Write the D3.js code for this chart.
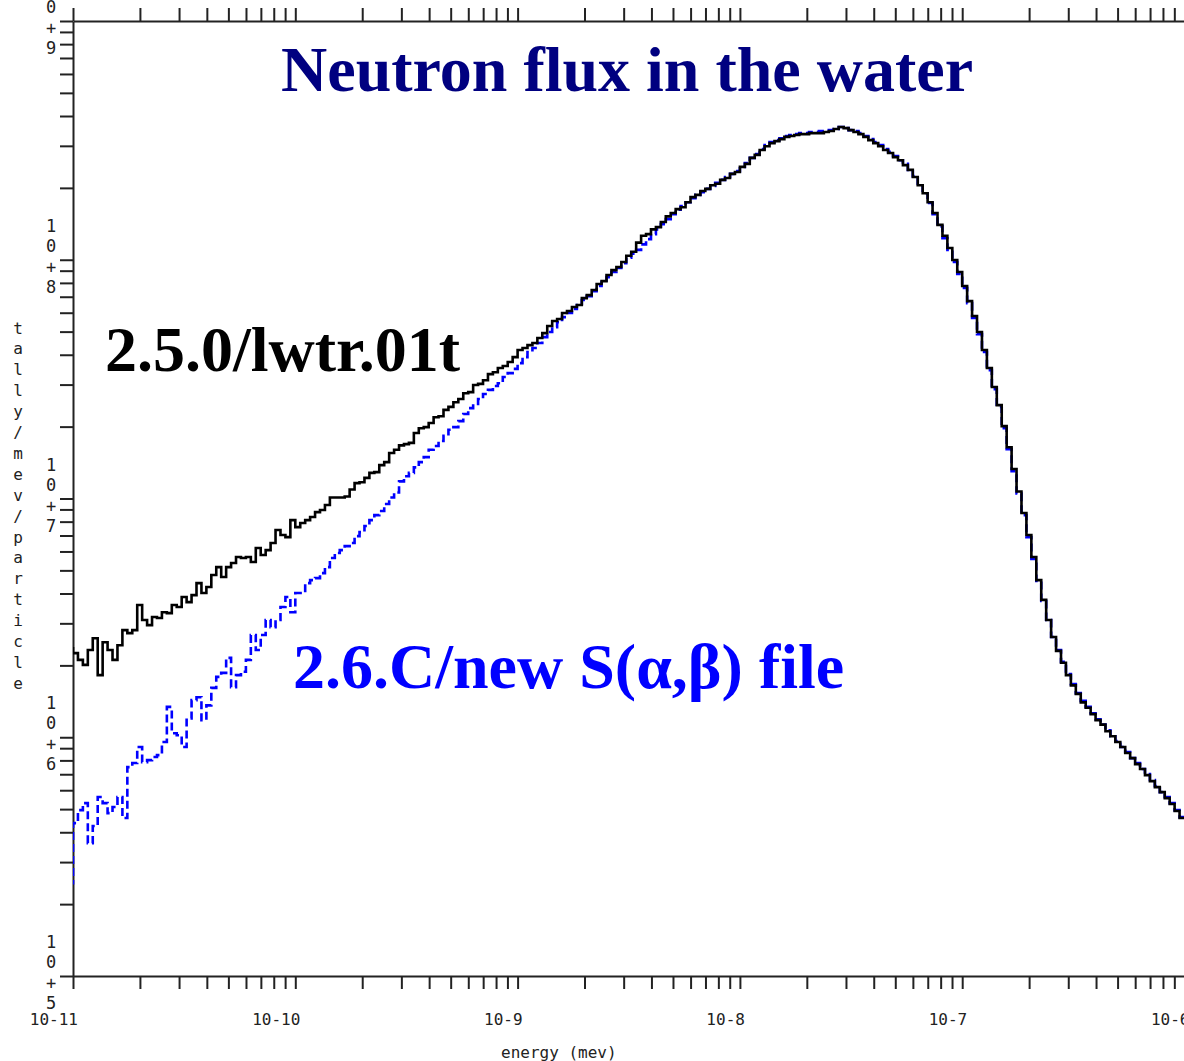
<!DOCTYPE html>
<html>
<head>
<meta charset="utf-8">
<script src="https://cdn.jsdelivr.net/npm/d3@7"></script>
<style>
body { margin: 0; background: #fff; }
svg { display: block; }
</style>
</head>
<body>
<script>
var width = 1184;
var height = 1061;

// tally bins: 45 per decade, the first one sits just below 1e-11
var binsPerDecade = 45;
var firstEdgeExp = -11 - 1 / binsPerDecade;

var xDecades = [1e-11, 1e-10, 1e-9, 1e-8, 1e-7, 1e-6];
var xTickLabels = ['10-11', '10-10', '10-9', '10-8', '10-7', '10-6'];
var yDecades = [1e5, 1e6, 1e7, 1e8, 1e9];
var yExponents = ['5', '6', '7', '8', '9'];
var xTitle = 'energy (mev)';
var yTitle = 'tally/mev/particle';
var title = 'Neutron flux in the water';
var labelOld = '2.5.0/lwtr.01t';
var labelNew = '2.6.C/new S(\u03b1,\u03b2) file';

// 2.5.0 / lwtr.01t  (tally/mev/particle per bin)
var lwtr01t = [2.36e6,
  2.25e6, 2.11e6, 2.01e6, 2.32e6, 2.60e6, 1.82e6, 2.50e6, 2.32e6, 2.11e6, 2.43e6,
  2.81e6, 2.73e6, 2.81e6, 3.58e6, 3.10e6, 2.95e6, 3.19e6, 3.16e6, 3.34e6, 3.31e6,
  3.58e6, 3.51e6, 3.87e6, 3.68e6, 3.94e6, 4.42e6, 4.02e6, 4.26e6, 4.78e6, 5.16e6,
  4.69e6, 5.16e6, 5.37e6, 5.69e6, 5.63e6, 5.69e6, 5.42e6, 6.20e6, 5.80e6, 6.08e6,
  6.51e6, 7.38e6, 7.03e6, 6.89e6, 8.12e6, 7.59e6, 7.89e6, 8.12e6, 8.36e6, 8.77e6,
  8.95e6, 9.39e6, 1.01e7, 1.01e7, 1.01e7, 1.02e7, 1.09e7, 1.16e7, 1.17e7, 1.22e7,
  1.28e7, 1.29e7, 1.38e7, 1.42e7, 1.55e7, 1.60e7, 1.67e7, 1.69e7, 1.71e7, 1.88e7,
  1.97e7, 1.99e7, 2.07e7, 2.19e7, 2.21e7, 2.35e7, 2.42e7, 2.53e7, 2.61e7, 2.76e7,
  2.79e7, 2.99e7, 3.02e7, 3.13e7, 3.32e7, 3.38e7, 3.52e7, 3.59e7, 3.73e7, 3.91e7,
  4.19e7, 4.27e7, 4.39e7, 4.48e7, 4.70e7, 4.93e7, 5.28e7, 5.54e7, 5.65e7, 5.98e7,
  6.10e7, 6.34e7, 6.46e7, 6.91e7, 7.11e7, 7.47e7, 7.91e7, 8.14e7, 8.63e7, 9.05e7,
  9.32e7, 9.78e7, 1.04e8, 1.08e8, 1.18e8, 1.26e8, 1.28e8, 1.34e8, 1.37e8, 1.44e8,
  1.52e8, 1.57e8, 1.63e8, 1.66e8, 1.74e8, 1.83e8, 1.87e8, 1.94e8, 1.98e8, 2.05e8,
  2.08e8, 2.16e8, 2.20e8, 2.29e8, 2.33e8, 2.45e8, 2.52e8, 2.67e8, 2.75e8, 2.88e8,
  2.99e8, 3.08e8, 3.14e8, 3.20e8, 3.27e8, 3.30e8, 3.33e8, 3.36e8, 3.36e8, 3.39e8,
  3.39e8, 3.39e8, 3.43e8, 3.46e8, 3.53e8, 3.60e8, 3.56e8, 3.49e8, 3.43e8, 3.36e8,
  3.27e8, 3.17e8, 3.08e8, 2.99e8, 2.88e8, 2.80e8, 2.69e8, 2.61e8, 2.49e8, 2.38e8,
  2.22e8, 2.05e8, 1.90e8, 1.74e8, 1.57e8, 1.40e8, 1.26e8, 1.12e8, 9.98e7, 8.88e7,
  7.76e7, 6.71e7, 5.81e7, 4.98e7, 4.19e7, 3.52e7, 2.93e7, 2.46e7, 2.01e7, 1.64e7,
  1.33e7, 1.07e7, 8.69e6, 7.03e6, 5.69e6, 4.55e6, 3.76e6, 3.10e6, 2.63e6, 2.30e6,
  2.05e6, 1.82e6, 1.65e6, 1.52e6, 1.40e6, 1.33e6, 1.25e6, 1.18e6, 1.13e6, 1.06e6,
  1.01e6, 9.55e5, 9.10e5, 8.59e5, 8.18e5, 7.72e5, 7.36e5, 6.94e5, 6.55e5, 6.18e5,
  5.89e5, 5.56e5, 5.25e5, 4.91e5, 4.59e5];

// 2.6.C / new S(alpha,beta) file
var newSab = [2.45e5,
  4.37e5, 4.95e5, 5.30e5, 3.60e5, 4.25e5, 5.62e5, 5.30e5, 4.81e5, 5.10e5, 5.62e5,
  4.59e5, 7.50e5, 7.80e5, 9.10e5, 7.87e5, 8.02e5, 8.26e5, 8.42e5, 9.55e5, 1.34e6,
  1.04e6, 1.02e6, 9.10e5, 1.20e6, 1.43e6, 1.47e6, 1.18e6, 1.36e6, 1.61e6, 1.79e6,
  1.86e6, 2.15e6, 1.62e6, 1.82e6, 1.88e6, 2.11e6, 2.68e6, 2.32e6, 2.68e6, 3.10e6,
  2.89e6, 3.10e6, 3.51e6, 3.87e6, 3.34e6, 4.02e6, 4.02e6, 4.42e6, 4.55e6, 4.64e6,
  4.87e6, 5.16e6, 5.63e6, 5.91e6, 6.08e6, 6.32e6, 6.51e6, 6.96e6, 7.23e6, 7.67e6,
  8.12e6, 8.52e6, 8.86e6, 9.48e6, 1.01e7, 1.06e7, 1.18e7, 1.24e7, 1.28e7, 1.35e7,
  1.42e7, 1.49e7, 1.60e7, 1.66e7, 1.74e7, 1.83e7, 1.94e7, 1.99e7, 2.11e7, 2.26e7,
  2.39e7, 2.49e7, 2.61e7, 2.74e7, 2.85e7, 2.96e7, 3.04e7, 3.23e7, 3.35e7, 3.49e7,
  3.69e7, 3.91e7, 4.11e7, 4.27e7, 4.48e7, 4.74e7, 4.98e7, 5.22e7, 5.48e7, 5.75e7,
  5.98e7, 6.22e7, 6.46e7, 6.78e7, 7.04e7, 7.39e7, 7.76e7, 8.06e7, 8.46e7, 8.88e7,
  9.23e7, 9.68e7, 1.02e8, 1.06e8, 1.10e8, 1.16e8, 1.22e8, 1.28e8, 1.34e8, 1.41e8,
  1.48e8, 1.55e8, 1.62e8, 1.68e8, 1.74e8, 1.81e8, 1.87e8, 1.92e8, 1.98e8, 2.04e8,
  2.10e8, 2.16e8, 2.22e8, 2.29e8, 2.35e8, 2.45e8, 2.54e8, 2.67e8, 2.77e8, 2.91e8,
  3.02e8, 3.11e8, 3.17e8, 3.23e8, 3.30e8, 3.33e8, 3.36e8, 3.39e8, 3.39e8, 3.43e8,
  3.43e8, 3.46e8, 3.46e8, 3.49e8, 3.53e8, 3.60e8, 3.56e8, 3.49e8, 3.46e8, 3.39e8,
  3.30e8, 3.20e8, 3.11e8, 3.02e8, 2.91e8, 2.83e8, 2.72e8, 2.61e8, 2.52e8, 2.38e8,
  2.24e8, 2.05e8, 1.90e8, 1.73e8, 1.55e8, 1.38e8, 1.23e8, 1.10e8, 9.78e7, 8.71e7,
  7.61e7, 6.58e7, 5.70e7, 4.88e7, 4.11e7, 3.45e7, 2.87e7, 2.42e7, 1.97e7, 1.61e7,
  1.30e7, 1.05e7, 8.52e6, 6.89e6, 5.58e6, 4.51e6, 3.72e6, 3.10e6, 2.63e6, 2.32e6,
  2.07e6, 1.84e6, 1.67e6, 1.53e6, 1.42e6, 1.34e6, 1.26e6, 1.19e6, 1.13e6, 1.07e6,
  1.01e6, 9.64e5, 9.10e5, 8.67e5, 8.18e5, 7.80e5, 7.36e5, 7.01e5, 6.62e5, 6.25e5,
  5.89e5, 5.62e5, 5.30e5, 4.95e5, 4.63e5];

var monoFont = '"DejaVu Sans Mono", "Liberation Mono", monospace';
var serifFont = '"Liberation Serif", "Times New Roman", serif';
var axisColor = '#222';

var svg = d3.select('body').append('svg')
  .attr('width', width).attr('height', height);
svg.append('rect').attr('width', width).attr('height', height).attr('fill', '#fff');

var x = d3.scaleLog().domain([1e-11, 1e-6]).range([73, 1184.5]);
var y = d3.scaleLog().domain([1e5, 1e9]).range([976, 21]);

// 1..9 ticks in each decade
var minorTicks = function(decades) {
  var out = [];
  decades.forEach(function(d, i) {
    if (i === decades.length - 1) { out.push(d); return; }
    for (var m = 1; m < 10; m++) out.push(d * m);
  });
  return out;
};
var xTicks = minorTicks(xDecades);
var yTicks = minorTicks(yDecades);

var styleAxis = function(g) {
  g.selectAll('path').attr('stroke', axisColor).attr('stroke-width', 2);
  g.selectAll('line').attr('stroke', axisColor).attr('stroke-width', 2);
  g.selectAll('text').remove();
};

svg.append('g').attr('transform', 'translate(0,976)')
  .call(d3.axisBottom(x).tickValues(xTicks).tickSize(13).tickSizeOuter(0).tickFormat(''))
  .call(styleAxis);
svg.append('g').attr('transform', 'translate(0,21)')
  .call(d3.axisTop(x).tickValues(xTicks).tickSize(13).tickSizeOuter(0).tickFormat(''))
  .call(styleAxis);
svg.append('g').attr('transform', 'translate(73,0)')
  .call(d3.axisLeft(y).tickValues(yTicks).tickSize(13).tickSizeOuter(0).tickFormat(''))
  .call(styleAxis);

// x tick labels, right aligned just past the decade tick
svg.append('g').selectAll('text').data(xDecades).enter().append('text')
  .attr('x', function(d) { return x(d) + 5; })
  .attr('y', 1019)
  .attr('text-anchor', 'end')
  .attr('dominant-baseline', 'central')
  .attr('font-family', monoFont).attr('font-size', 16).attr('fill', axisColor)
  .text(function(d, i) { return xTickLabels[i]; });

// y tick labels are stacked vertically: 1 / 0 / + / exponent
var yLabelGroup = svg.append('g');
yDecades.forEach(function(d, i) {
  var chars = ['1', '0', '+', yExponents[i]];
  var offs = [-34, -14, 7, 27];
  chars.forEach(function(c, j) {
    yLabelGroup.append('text')
      .attr('x', 51).attr('y', y(d) + offs[j])
      .attr('text-anchor', 'middle').attr('dominant-baseline', 'central')
      .attr('font-family', monoFont).attr('font-size', 17).attr('fill', axisColor)
      .text(c);
  });
});

svg.append('text')
  .attr('x', 501).attr('y', 1052)
  .attr('dominant-baseline', 'central')
  .attr('font-family', monoFont).attr('font-size', 16).attr('fill', axisColor)
  .text(xTitle);

yTitle.split('').forEach(function(c, i) {
  svg.append('text')
    .attr('x', 18).attr('y', 328 + i * 20.9)
    .attr('text-anchor', 'middle').attr('dominant-baseline', 'central')
    .attr('font-family', monoFont).attr('font-size', 16).attr('fill', axisColor)
    .text(c);
});

// histogram step curves
svg.append('clipPath').attr('id', 'plot-clip').append('rect')
  .attr('x', 73).attr('y', 21).attr('width', 1200).attr('height', 955);

var edge = function(i) {
  return Math.pow(10, firstEdgeExp + i / binsPerDecade);
};
var stepPoints = function(vals) {
  var pts = vals.map(function(v, i) { return [edge(i), v]; });
  pts.push([edge(vals.length), vals[vals.length - 1]]);
  return pts;
};
var stepLine = d3.line()
  .x(function(d) { return x(d[0]); })
  .y(function(d) { return y(d[1]); })
  .curve(d3.curveStepAfter);

var plot = svg.append('g').attr('clip-path', 'url(#plot-clip)');
plot.append('path')
  .attr('d', stepLine(stepPoints(newSab)))
  .attr('fill', 'none').attr('stroke', '#0000ff').attr('stroke-width', 2.6)
  .attr('stroke-dasharray', '8,4');
plot.append('path')
  .attr('d', stepLine(stepPoints(lwtr01t)))
  .attr('fill', 'none').attr('stroke', '#000').attr('stroke-width', 2.6);

// annotations
svg.append('text')
  .attr('x', 281).attr('y', 91)
  .attr('font-family', serifFont).attr('font-weight', 'bold').attr('font-size', 64)
  .attr('fill', '#000080').text(title);
svg.append('text')
  .attr('x', 105).attr('y', 371)
  .attr('font-family', serifFont).attr('font-weight', 'bold').attr('font-size', 64)
  .attr('fill', '#000').text(labelOld);
svg.append('text')
  .attr('x', 293).attr('y', 688)
  .attr('font-family', serifFont).attr('font-weight', 'bold').attr('font-size', 64)
  .attr('fill', '#0000ff').text(labelNew);
</script>
</body>
</html>
